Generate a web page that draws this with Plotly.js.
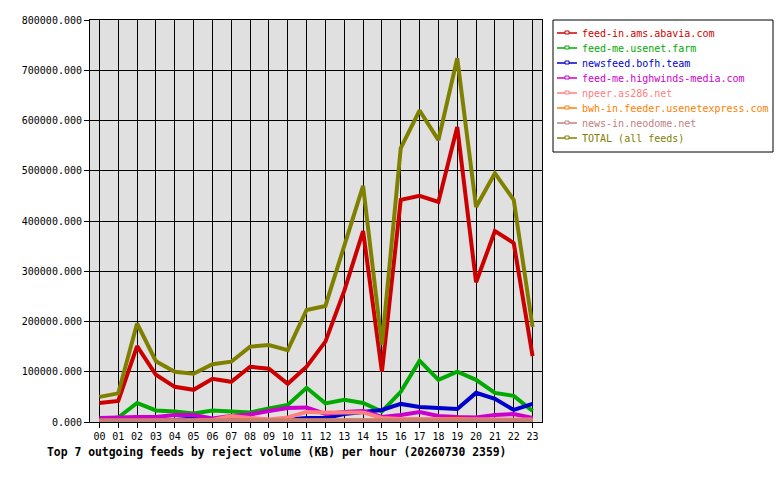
<!DOCTYPE html>
<html>
<head>
<meta charset="utf-8">
<script src="https://cdn.plot.ly/plotly-3.0.1.min.js"></script>
<style>body{margin:0;background:#fff;}</style>
</head>
<body>
<div id="chart" style="width:780px;height:480px;"></div>
<script>
var hours = ['00','01','02','03','04','05','06','07','08','09','10','11',
             '12','13','14','15','16','17','18','19','20','21','22','23'];

var abavia   = [38000, 42000, 151000, 94000, 70000, 64000, 86000, 80000, 110000, 106000, 76000, 110000,
                160000, 261000, 380000, 100000, 442000, 450000, 438000, 587000, 278000, 380000, 356000, 131000];
var usenet   = [3000, 9000, 38000, 23000, 21000, 17000, 23000, 21000, 19000, 27000, 34000, 68000,
                37000, 44000, 38000, 21000, 60000, 122000, 84000, 100000, 84000, 58000, 52000, 22000];
var bofh     = [2000, 2000, 3000, 3000, 4000, 7000, 5000, 3000, 6000, 4000, 5000, 8000,
                8000, 16000, 20000, 24000, 36000, 30000, 28000, 26000, 58000, 46000, 24000, 36000];
var highwind = [8000, 10000, 10000, 10000, 14000, 14000, 7000, 12000, 15000, 22000, 28000, 29000,
                16000, 20000, 22000, 10000, 14000, 20000, 12000, 10000, 9000, 14000, 16000, 8000];
var npeer    = [2000, 2000, 2000, 2000, 3000, 3000, 4000, 12000, 8000, 5000, 9000, 20000,
                19000, 19000, 19000, 8000, 6000, 6000, 6000, 6000, 6000, 6000, 6000, 5000];
var bwh      = [3000, 4000, 3000, 3000, 3000, 3000, 3000, 3000, 3000, 3000, 3000, 3000,
                3000, 3000, 3000, 3000, 3000, 3000, 4000, 6000, 3000, 3000, 3000, 3000];
var neodome  = [3000, 3000, 3000, 3000, 3000, 3000, 3000, 3000, 3000, 3000, 3000, 3000,
                3000, 3000, 3000, 3000, 3000, 3000, 3000, 3000, 3000, 3000, 3000, 3000];
var total    = [50000, 57000, 196000, 121000, 100000, 96000, 115000, 120000, 150000, 153000, 143000, 223000,
                231000, 348000, 470000, 153000, 545000, 620000, 561000, 724000, 428000, 495000, 442000, 189000];

var names  = ['feed-in.ams.abavia.com', 'feed-me.usenet.farm', 'newsfeed.bofh.team',
              'feed-me.highwinds-media.com', 'npeer.as286.net', 'bwh-in.feeder.usenetexpress.com',
              'news-in.neodome.net', 'TOTAL (all feeds)'];
var colors = ['#cc0000', '#00aa00', '#0000cc', '#cc00cc', '#ff8080', '#ff8000', '#c08080', '#808000'];
var series = [abavia, usenet, bofh, highwind, npeer, bwh, neodome, total];

var xs = hours.map(function(h, i){ return i; });

var data = series.map(function(vals, k){
    return {
        x: xs,
        y: vals,
        name: names[k],
        mode: 'lines',
        line: {color: colors[k], width: 4},
        type: 'scatter'
    };
});

var mono = 'DejaVu Sans Mono, monospace';

// plot box in pixels, used to place the hand-made legend
var L = 90, R = 542, T = 20, B = 422;
function px(x){ return (x - L) / (R - L); }
function py(y){ return (B - y) / (B - T); }

var shapes = [{
    type: 'rect', xref: 'paper', yref: 'paper',
    x0: px(553), x1: px(773), y0: py(20), y1: py(152),
    line: {color: '#000', width: 1}, fillcolor: '#fff', layer: 'above'
}];
var annotations = [];
names.forEach(function(n, k){
    var yy = 33 + 15 * k;
    shapes.push({
        type: 'line', xref: 'paper', yref: 'paper',
        x0: px(557), x1: px(577), y0: py(yy), y1: py(yy),
        line: {color: colors[k], width: 1.5}, layer: 'above'
    });
    shapes.push({
        type: 'rect', xref: 'paper', yref: 'paper',
        x0: px(565), x1: px(569), y0: py(yy + 1), y1: py(yy - 2),
        line: {color: colors[k], width: 1}, fillcolor: '#fff', layer: 'above'
    });
    annotations.push({
        xref: 'paper', yref: 'paper',
        x: px(580), y: py(yy), xanchor: 'left', yanchor: 'middle',
        text: n, showarrow: false,
        font: {family: mono, size: 10, color: colors[k]}
    });
});

var layout = {
    width: 780,
    height: 480,
    paper_bgcolor: '#ffffff',
    plot_bgcolor: '#e0e0e0',
    margin: {l: L, r: 780 - R, t: T, b: 480 - B},
    font: {family: mono, size: 10, color: '#000'},
    title: {
        text: '<b>Top 7 outgoing feeds by reject volume (KB) per hour (20260730 2359)</b>',
        font: {family: mono, size: 11.4, color: '#000'},
        xref: 'container', yref: 'container',
        x: 47 / 780, xanchor: 'left',
        y: 1 - 452 / 480, yanchor: 'middle'
    },
    xaxis: {
        range: [-0.5, 23.5],
        tickvals: xs,
        ticktext: hours,
        showgrid: true,
        gridcolor: '#000',
        gridwidth: 1,
        showline: true,
        linecolor: '#000',
        linewidth: 1,
        mirror: true,
        ticks: 'outside',
        ticklen: 5,
        tickcolor: '#000',
        zeroline: false,
        fixedrange: true
    },
    yaxis: {
        range: [0, 800000],
        dtick: 100000,
        tickformat: '.3f',
        showgrid: true,
        gridcolor: '#000',
        gridwidth: 1,
        showline: true,
        linecolor: '#000',
        linewidth: 1,
        mirror: true,
        ticks: 'outside',
        ticklen: 5,
        tickcolor: '#000',
        zeroline: false,
        fixedrange: true
    },
    shapes: shapes,
    annotations: annotations,
    showlegend: false
};

Plotly.newPlot('chart', data, layout, {displayModeBar: false, staticPlot: true});
</script>
</body>
</html>
